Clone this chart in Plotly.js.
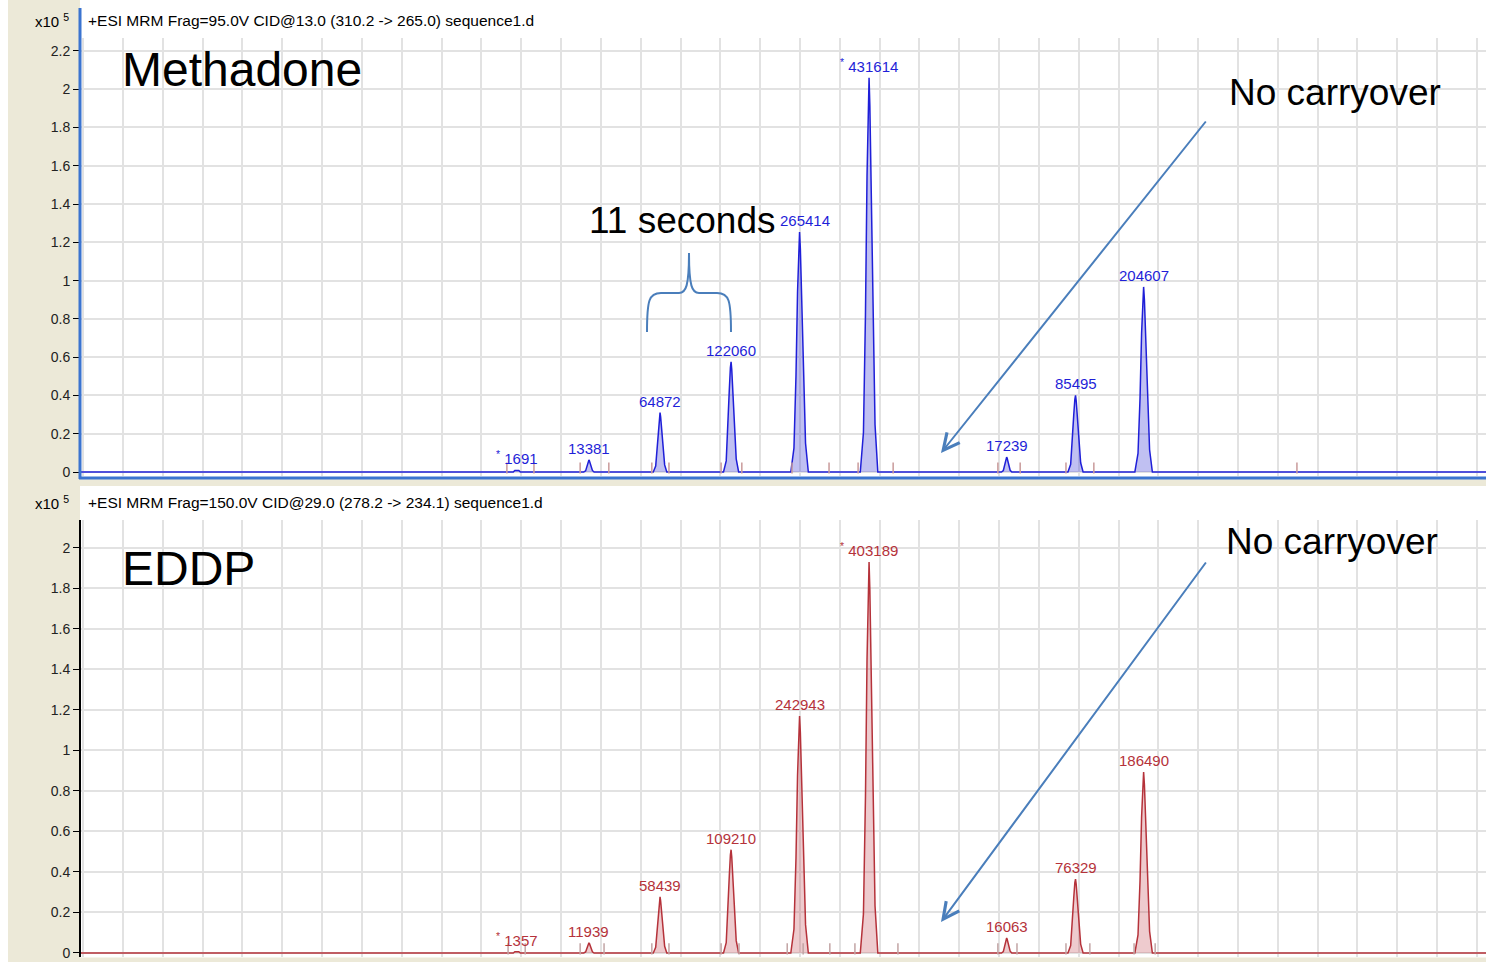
<!DOCTYPE html>
<html>
<head>
<meta charset="utf-8">
<script src="https://cdn.plot.ly/plotly-3.0.1.min.js"></script>
<style>
html,body{margin:0;padding:0;background:#fff;}
#chart{width:1486px;height:962px;}
</style>
</head>
<body>
<div id="chart"></div>
<script>
// ---------------- DATA ----------------
// retention time (min) and signal (x10^5 counts)
const methadoneTime = [0.0945,
  1.180, 1.184, 1.194, 1.198,
  1.357, 1.3617, 1.3647, 1.367, 1.3688, 1.370, 1.3712, 1.3735, 1.3759, 1.3788, 1.383,
  1.5316, 1.5377, 1.5416, 1.5447, 1.5471, 1.5486, 1.5501, 1.5532, 1.5563, 1.5602, 1.5656,
  1.708, 1.7148, 1.7192, 1.7226, 1.7253, 1.727, 1.7287, 1.7321, 1.7356, 1.7399, 1.746,
  1.877, 1.8849, 1.890, 1.8939, 1.897, 1.899, 1.901, 1.9049, 1.9089, 1.914, 1.921,
  2.0515, 2.0594, 2.0645, 2.0684, 2.0715, 2.0735, 2.0755, 2.0794, 2.0834, 2.0885, 2.0955,
  2.406, 2.4107, 2.4137, 2.416, 2.4178, 2.419, 2.4202, 2.4225, 2.4249, 2.4278, 2.432,
  2.573, 2.5798, 2.5842, 2.5876, 2.5903, 2.592, 2.5937, 2.5971, 2.6006, 2.6049, 2.611,
  2.741, 2.7489, 2.754, 2.7579, 2.761, 2.763, 2.765, 2.7689, 2.7729, 2.778, 2.785,
  3.6228];
const methadoneSignal = [0,
  0, 0.008, 0.008, 0,
  0, 0.006, 0.025, 0.047, 0.060, 0.063, 0.059, 0.044, 0.025, 0.008, 0,
  0, 0.031, 0.124, 0.233, 0.295, 0.310, 0.288, 0.217, 0.124, 0.037, 0,
  0, 0.058, 0.230, 0.431, 0.546, 0.575, 0.535, 0.403, 0.230, 0.069, 0,
  0, 0.125, 0.502, 0.941, 1.191, 1.254, 1.166, 0.878, 0.502, 0.150, 0,
  0, 0.206, 0.824, 1.545, 1.957, 2.060, 1.916, 1.442, 0.824, 0.247, 0,
  0, 0.008, 0.031, 0.059, 0.074, 0.078, 0.073, 0.055, 0.031, 0.009, 0,
  0, 0.040, 0.160, 0.300, 0.380, 0.400, 0.372, 0.280, 0.160, 0.048, 0,
  0, 0.097, 0.387, 0.725, 0.919, 0.967, 0.899, 0.677, 0.387, 0.116, 0,
  0];

const eddpTime = [0.0945,
  1.180, 1.184, 1.194, 1.198,
  1.357, 1.3617, 1.3647, 1.367, 1.3688, 1.370, 1.3712, 1.3735, 1.3759, 1.3788, 1.383,
  1.5316, 1.5377, 1.5416, 1.5447, 1.5471, 1.5486, 1.5501, 1.5532, 1.5563, 1.5602, 1.5656,
  1.708, 1.7148, 1.7192, 1.7226, 1.7253, 1.727, 1.7287, 1.7321, 1.7356, 1.7399, 1.746,
  1.877, 1.8849, 1.890, 1.8939, 1.897, 1.899, 1.901, 1.9049, 1.9089, 1.914, 1.921,
  2.0515, 2.0594, 2.0645, 2.0684, 2.0715, 2.0735, 2.0755, 2.0794, 2.0834, 2.0885, 2.0955,
  2.406, 2.4107, 2.4137, 2.416, 2.4178, 2.419, 2.4202, 2.4225, 2.4249, 2.4278, 2.432,
  2.573, 2.5798, 2.5842, 2.5876, 2.5903, 2.592, 2.5937, 2.5971, 2.6006, 2.6049, 2.611,
  2.741, 2.7489, 2.754, 2.7579, 2.761, 2.763, 2.765, 2.7689, 2.7729, 2.778, 2.785,
  3.6228];
const eddpSignal = [0,
  0, 0.006, 0.006, 0,
  0, 0.005, 0.020, 0.038, 0.048, 0.050, 0.047, 0.035, 0.020, 0.006, 0,
  0, 0.028, 0.111, 0.208, 0.263, 0.277, 0.258, 0.194, 0.111, 0.033, 0,
  0, 0.051, 0.204, 0.383, 0.485, 0.510, 0.474, 0.357, 0.204, 0.061, 0,
  0, 0.117, 0.468, 0.878, 1.112, 1.170, 1.088, 0.819, 0.468, 0.140, 0,
  0, 0.193, 0.772, 1.448, 1.834, 1.930, 1.795, 1.351, 0.772, 0.232, 0,
  0, 0.007, 0.030, 0.056, 0.070, 0.074, 0.069, 0.052, 0.030, 0.009, 0,
  0, 0.037, 0.146, 0.274, 0.347, 0.365, 0.339, 0.256, 0.146, 0.044, 0,
  0, 0.089, 0.358, 0.671, 0.849, 0.894, 0.831, 0.626, 0.358, 0.107, 0,
  0];

// peak apex positions and integrated areas (labels)
const methadonePeakTime   = [1.189, 1.370, 1.5486, 1.727, 1.899, 2.0735, 2.419, 2.592, 2.763];
const methadonePeakHeight = [0.008, 0.063, 0.31, 0.575, 1.254, 2.06, 0.078, 0.40, 0.967];
const methadonePeakArea   = ['*1691', '13381', '64872', '122060', '265414', '*431614', '17239', '85495', '204607'];

const eddpPeakTime   = [1.189, 1.370, 1.5486, 1.727, 1.899, 2.0735, 2.419, 2.592, 2.763];
const eddpPeakHeight = [0.006, 0.05, 0.277, 0.51, 1.17, 1.93, 0.074, 0.365, 0.894];
const eddpPeakArea   = ['*1357', '11939', '58439', '109210', '242943', '*403189', '16063', '76329', '186490'];

// integration start/end markers (min)
const methadoneMarkTime = [1.164, 1.232, 1.348, 1.420, 1.528, 1.571, 1.702, 1.754, 1.880, 1.973,
  2.046, 2.134, 2.397, 2.453, 2.568, 2.638, 3.148];
const eddpMarkTime = [1.167, 1.210, 1.348, 1.408, 1.528, 1.571, 1.702, 1.747, 1.868, 1.908,
  1.975, 2.038, 2.146, 2.397, 2.445, 2.568, 2.628, 2.739, 2.792];

const yTicks = [0, 0.2, 0.4, 0.6, 0.8, 1, 1.2, 1.4, 1.6, 1.8, 2, 2.2];

const headerTop = '+ESI MRM Frag=95.0V CID@13.0 (310.2 -> 265.0) sequence1.d';
const headerBottom = '+ESI MRM Frag=150.0V CID@29.0 (278.2 -> 234.1) sequence1.d';

// ---------------- LAYOUT helpers ----------------
const W = 1486, H = 962;
const M = {l: 81, r: 0, t: 38, b: 5};
const PW = W - M.l - M.r, PH = H - M.t - M.b;
const px = x => (x - M.l) / PW;          // pixel -> paper x
const py = y => (H - M.b - y) / PH;      // pixel -> paper y

const SMALL = 'Liberation Sans, Arial, sans-serif';
const BIG = 'Liberation Sans, Arial, sans-serif';
const BLUE = '#1f1fd8', RED = '#b5323a', ARROW = '#4a7ebb';

const traces = [
  {x: methadoneTime, y: methadoneSignal, xaxis: 'x', yaxis: 'y', type: 'scatter', mode: 'lines',
   line: {color: BLUE, width: 1.5}, fill: 'tozeroy', fillcolor: 'rgba(60,60,215,0.32)'},
  {x: eddpTime, y: eddpSignal, xaxis: 'x2', yaxis: 'y2', type: 'scatter', mode: 'lines',
   line: {color: RED, width: 1.5}, fill: 'tozeroy', fillcolor: 'rgba(195,70,80,0.28)'},
  {x: methadoneMarkTime, y: methadoneMarkTime.map(() => 0.021), xaxis: 'x', yaxis: 'y', type: 'scatter', mode: 'markers',
   marker: {symbol: 'line-ns-open', size: 8, color: '#c99a9a', line: {color: '#c99a9a', width: 1.5}}},
  {x: eddpMarkTime, y: eddpMarkTime.map(() => 0.02), xaxis: 'x2', yaxis: 'y2', type: 'scatter', mode: 'markers',
   marker: {symbol: 'line-ns-open', size: 8, color: '#c2a4a4', line: {color: '#c2a4a4', width: 1.5}}}
];

function peakLabels(times, heights, labels, xref, yref, color) {
  return times.map((t, i) => {
    const s = labels[i];
    const txt = s.startsWith('*') ? '<sup>*</sup> ' + s.slice(1) : s;
    return {x: t, y: heights[i], xref: xref, yref: yref, text: txt, showarrow: false,
      xanchor: 'center', yanchor: 'bottom', yshift: 1, xshift: (xref === 'x' && i === 4) ? 5 : 0,
      font: {family: SMALL, size: 15, color: color}};
  });
}

const annotations = [].concat(
  peakLabels(methadonePeakTime, methadonePeakHeight, methadonePeakArea, 'x', 'y', BLUE),
  peakLabels(eddpPeakTime, eddpPeakHeight, eddpPeakArea, 'x2', 'y2', RED),
  [
    {xref: 'paper', yref: 'paper', x: px(86), y: py(20), xanchor: 'left', yanchor: 'middle', showarrow: false,
     text: headerTop, font: {family: SMALL, size: 15.5, color: '#000'}},
    {xref: 'paper', yref: 'paper', x: px(86), y: py(502), xanchor: 'left', yanchor: 'middle', showarrow: false,
     text: headerBottom, font: {family: SMALL, size: 15.5, color: '#000'}},
    {xref: 'paper', yref: 'paper', x: px(71), y: py(20), xanchor: 'right', yanchor: 'middle', showarrow: false,
     text: 'x10 <sup>5</sup>', font: {family: SMALL, size: 15, color: '#000'}},
    {xref: 'paper', yref: 'paper', x: px(71), y: py(502), xanchor: 'right', yanchor: 'middle', showarrow: false,
     text: 'x10 <sup>5</sup>', font: {family: SMALL, size: 15, color: '#000'}},
    {xref: 'paper', yref: 'paper', x: px(120), y: py(69), xanchor: 'left', yanchor: 'middle', showarrow: false,
     text: 'Methadone', font: {family: BIG, size: 48, color: '#000'}},
    {xref: 'paper', yref: 'paper', x: px(120), y: py(568), xanchor: 'left', yanchor: 'middle', showarrow: false,
     text: 'EDDP', font: {family: BIG, size: 48, color: '#000'}},
    {xref: 'paper', yref: 'paper', x: px(1227), y: py(93), xanchor: 'left', yanchor: 'middle', showarrow: false,
     text: 'No carryover', font: {family: BIG, size: 37, color: '#000'}},
    {xref: 'paper', yref: 'paper', x: px(1224), y: py(541), xanchor: 'left', yanchor: 'middle', showarrow: false,
     text: 'No carryover', font: {family: BIG, size: 37, color: '#000'}},
    {xref: 'paper', yref: 'paper', x: px(587), y: py(221), xanchor: 'left', yanchor: 'middle', showarrow: false,
     text: '11 seconds', font: {family: BIG, size: 37, color: '#000'}},
    {xref: 'paper', yref: 'paper', x: px(941), y: py(453), ax: 266, ay: -333, text: '', showarrow: true,
     arrowhead: 5, arrowsize: 1.6, arrowwidth: 2, arrowcolor: ARROW, standoff: 0},
    {xref: 'paper', yref: 'paper', x: px(941), y: py(922), ax: 266, ay: -361, text: '', showarrow: true,
     arrowhead: 5, arrowsize: 1.6, arrowwidth: 2, arrowcolor: ARROW, standoff: 0}
  ]
);

function P(x, y) { return px(x).toFixed(5) + ',' + py(y).toFixed(5); }
const bracePath = 'M' + P(647, 332) + ' C' + P(647, 300) + ' ' + P(649, 293) + ' ' + P(661, 293) +
  ' L' + P(679, 293) + ' C' + P(686, 293) + ' ' + P(689, 286) + ' ' + P(689, 253) +
  ' C' + P(689, 286) + ' ' + P(692, 293) + ' ' + P(699, 293) +
  ' L' + P(717, 293) + ' C' + P(729, 293) + ' ' + P(731, 300) + ' ' + P(731, 332);

const BEIGE = '#ece9d8';
const shapes = [
  {type: 'rect', xref: 'paper', yref: 'paper', x0: px(8), x1: px(80), y0: py(962), y1: py(0),
   fillcolor: BEIGE, line: {width: 0}, layer: 'below'},
  {type: 'rect', xref: 'paper', yref: 'paper', x0: px(80), x1: px(1486), y0: py(486), y1: py(479),
   fillcolor: BEIGE, line: {width: 0}, layer: 'below'},
  {type: 'rect', xref: 'paper', yref: 'paper', x0: px(80), x1: px(1486), y0: py(962), y1: py(957.5),
   fillcolor: BEIGE, line: {width: 0}, layer: 'above'},
  {type: 'line', xref: 'paper', yref: 'paper', x0: px(80), x1: px(80), y0: py(479), y1: py(8),
   line: {color: '#3b74d0', width: 3}, layer: 'above'},
  {type: 'line', xref: 'paper', yref: 'paper', x0: px(79), x1: px(1486), y0: py(478), y1: py(478),
   line: {color: '#3b74d0', width: 3}, layer: 'above'},
  {type: 'path', xref: 'paper', yref: 'paper', path: bracePath, line: {color: ARROW, width: 2}, layer: 'above'}
];

const xCommon = {range: [0.0945, 3.6228], tick0: 0, dtick: 0.1, showticklabels: false, ticks: '',
  showgrid: true, gridcolor: '#e2e2e2', gridwidth: 2, zeroline: false, showline: false, fixedrange: true};
const yCommon = {tickvals: yTicks, ticks: 'outside', ticklen: 6, tickwidth: 1, tickcolor: '#000',
  showline: true, linecolor: '#000', linewidth: 2, showgrid: true, gridcolor: '#e2e2e2', gridwidth: 2,
  zeroline: false, tickfont: {family: SMALL, size: 14, color: '#222'}, fixedrange: true, automargin: false};

const layout = {
  width: W, height: H,
  margin: M,
  paper_bgcolor: '#ffffff', plot_bgcolor: '#ffffff',
  showlegend: false, hovermode: false,
  xaxis: Object.assign({}, xCommon, {domain: [0, 1], anchor: 'y'}),
  xaxis2: Object.assign({}, xCommon, {domain: [0, 1], anchor: 'y2'}),
  yaxis: Object.assign({}, yCommon, {domain: [0.5234, 1], range: [-0.0209, 2.2675], anchor: 'x'}),
  yaxis2: Object.assign({}, yCommon, {domain: [0, 0.4755], range: [-0.0198, 2.138], anchor: 'x2',
    tickvals: yTicks.slice(0, 11)}),
  annotations: annotations,
  shapes: shapes
};

Plotly.newPlot('chart', traces, layout, {displayModeBar: false, staticPlot: true});
</script>
</body>
</html>
